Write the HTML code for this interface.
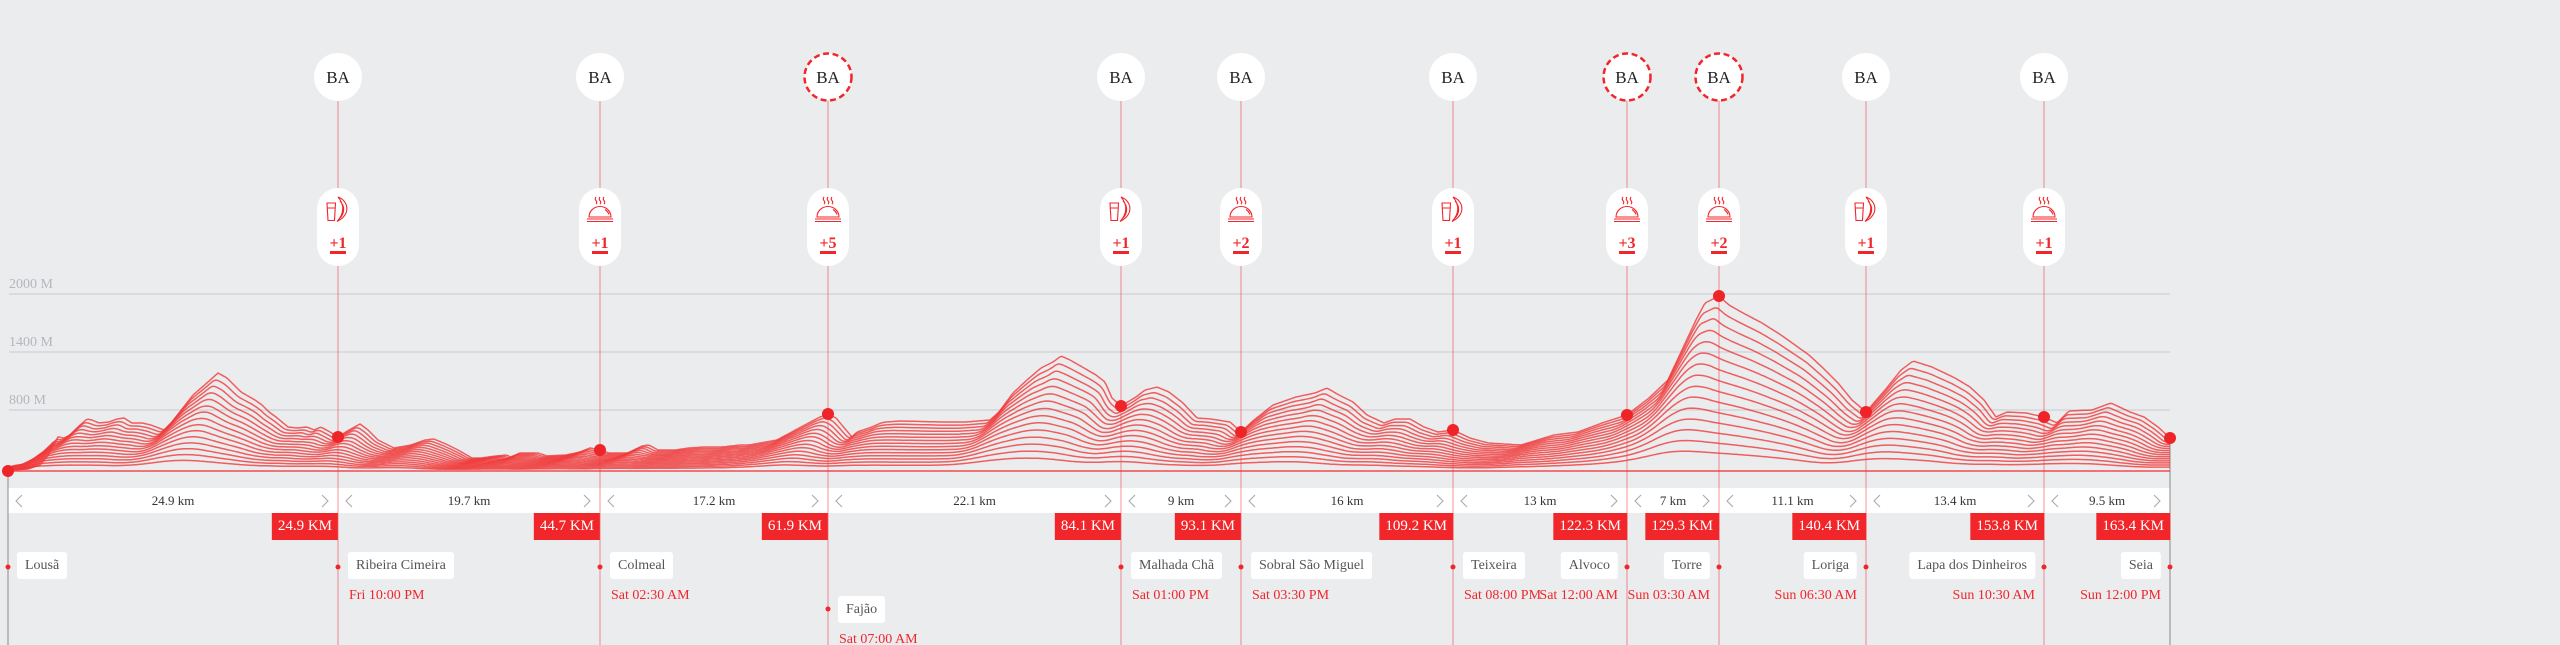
<!DOCTYPE html>
<html><head><meta charset="utf-8">
<style>
html,body{margin:0;padding:0;background:#ebecee;}
#c{position:relative;width:2560px;height:645px;overflow:hidden;background:#ebecee;font-family:"Liberation Serif",serif;}
#c svg{position:absolute;left:0;top:0;z-index:2;}
.band{position:absolute;top:488px;height:25px;line-height:25px;background:#fff;text-align:center;font-size:13px;color:#333;z-index:1;white-space:nowrap;}
.km{position:absolute;top:513px;height:27px;line-height:27px;background:#f1262b;color:#fff;font-size:15px;padding:0 6px;transform:translateX(-100%);white-space:nowrap;z-index:3;}
.lb{position:absolute;top:552px;height:27px;line-height:27px;background:#fff;border-radius:3px;color:#555;font-size:14px;padding:0 8px;white-space:nowrap;z-index:3;}
.tm{position:absolute;top:588px;line-height:16px;color:#f1262b;font-size:14px;white-space:nowrap;z-index:3;}
.L{transform:translateX(-100%);}
</style></head>
<body><div id="c">
<div class="band" style="left:8px;width:330px">24.9 km</div>
<div class="band" style="left:338px;width:262px">19.7 km</div>
<div class="band" style="left:600px;width:228px">17.2 km</div>
<div class="band" style="left:828px;width:293px">22.1 km</div>
<div class="band" style="left:1121px;width:120px">9 km</div>
<div class="band" style="left:1241px;width:212px">16 km</div>
<div class="band" style="left:1453px;width:174px">13 km</div>
<div class="band" style="left:1627px;width:92px">7 km</div>
<div class="band" style="left:1719px;width:147px">11.1 km</div>
<div class="band" style="left:1866px;width:178px">13.4 km</div>
<div class="band" style="left:2044px;width:126px">9.5 km</div>

<svg width="2560" height="645" viewBox="0 0 2560 645" xmlns="http://www.w3.org/2000/svg">
<defs>
<g id="cl" fill="none" stroke="#f1262b" stroke-width="1.1">
<path d="M-4,197 q-1.5,1.8 0,3.6 q1.5,1.8 0,3.6 M0,197 q-1.5,1.8 0,3.6 q1.5,1.8 0,3.6 M4,197 q-1.5,1.8 0,3.6 q1.5,1.8 0,3.6"/>
<path d="M-11,217 A11,10.5 0 0 1 11,217 Z"/>
<path d="M5,209.5 q3,2 4,5"/>
<path d="M-13,219 H13 M-13,221.5 H13"/>
</g>
<g id="sn" fill="none" stroke="#f1262b" stroke-width="1.1">
<path d="M-11,203 L-2.5,203 L-3.5,220.5 L-10,220.5 Z M-10.5,208 H-3"/>
<path d="M0,197 C11,201 13,215 -1,221.5 C6,214 7,205 0,197 Z M2,201 C7,206 7,214 1,219"/>
</g>
</defs>
<g stroke="#d3d5d9" stroke-width="1.5">
<line x1="9" y1="294" x2="2170" y2="294"/>
<line x1="9" y1="352" x2="2170" y2="352"/>
<line x1="9" y1="410" x2="2170" y2="410"/>
</g>
<g font-family="Liberation Serif, serif" font-size="14" fill="#b3b7bd">
<text x="9" y="288">2000 M</text>
<text x="9" y="346">1400 M</text>
<text x="9" y="404">800 M</text>
</g>
<g fill="none" stroke="#aaa" stroke-width="1.1">
<path d="M22,495 L16,501 L22,507 M322,495 L328,501 L322,507"/>
<path d="M352,495 L346,501 L352,507 M584,495 L590,501 L584,507"/>
<path d="M614,495 L608,501 L614,507 M812,495 L818,501 L812,507"/>
<path d="M842,495 L836,501 L842,507 M1105,495 L1111,501 L1105,507"/>
<path d="M1135,495 L1129,501 L1135,507 M1225,495 L1231,501 L1225,507"/>
<path d="M1255,495 L1249,501 L1255,507 M1437,495 L1443,501 L1437,507"/>
<path d="M1467,495 L1461,501 L1467,507 M1611,495 L1617,501 L1611,507"/>
<path d="M1641,495 L1635,501 L1641,507 M1703,495 L1709,501 L1703,507"/>
<path d="M1733,495 L1727,501 L1733,507 M1850,495 L1856,501 L1850,507"/>
<path d="M1880,495 L1874,501 L1880,507 M2028,495 L2034,501 L2028,507"/>
<path d="M2058,495 L2052,501 L2058,507 M2154,495 L2160,501 L2154,507"/>
</g>
<g stroke="#f1262b" stroke-opacity="0.5" stroke-width="1">
<line x1="338" y1="77" x2="338" y2="645"/>
<line x1="600" y1="77" x2="600" y2="645"/>
<line x1="828" y1="77" x2="828" y2="645"/>
<line x1="1121" y1="77" x2="1121" y2="645"/>
<line x1="1241" y1="77" x2="1241" y2="645"/>
<line x1="1453" y1="77" x2="1453" y2="645"/>
<line x1="1627" y1="77" x2="1627" y2="645"/>
<line x1="1719" y1="77" x2="1719" y2="645"/>
<line x1="1866" y1="77" x2="1866" y2="645"/>
<line x1="2044" y1="77" x2="2044" y2="645"/>
</g>
<g stroke="#8a8a8a" stroke-width="1">
<line x1="8" y1="471" x2="8" y2="645"/>
<line x1="2170" y1="438" x2="2170" y2="645"/>
</g>
<line x1="8" y1="471" x2="2170" y2="471" stroke="#f1262b" stroke-opacity="0.8" stroke-width="1.6"/>
<g id="ridge" fill="none" stroke="#f03a3a" stroke-opacity="0.8" stroke-width="1.5" stroke-linejoin="round">
<polyline points="8,470 28,469 40,465 47,457 53,446 58,437 64,438 70,435 78,427 87,419 92,420 99,423 109,422 117,419 124,418 132,423 142,423 151,425 164,430 172,422 179,413 193,395 208,382 218,373 227,378 241,392 255,400 262,405 269,412 276,417 288,427 297,428 307,427 314,430 321,427 330,432 338,437 349,430 360,424 368,430 378,440 394,448 411,445 425,440 434,439 448,445 458,450 472,458 481,458 496,456 507,455 512,458 519,453 538,453 547,456 566,455 580,452 590,448 600,450 609,453 628,453 642,446 649,445 658,450 675,450 689,448 703,447 722,447 740,445 749,445 777,440 801,427 820,417 828,414 836,418 846,430 852,437 857,432 872,427 881,423 886,422 900,421 942,422 966,422 990,420 999,412 1013,393 1027,380 1041,368 1053,362 1061,356 1070,360 1084,368 1096,375 1105,382 1112,398 1121,406 1136,397 1145,390 1157,387 1169,392 1183,403 1197,418 1211,419 1230,422 1241,432 1254,420 1273,405 1296,397 1315,393 1327,388 1339,395 1353,402 1367,415 1384,423 1395,419 1410,419 1424,427 1438,432 1453,430 1470,438 1488,443 1521,445 1554,435 1578,432 1602,423 1627,415 1649,398 1668,380 1682,350 1696,320 1705,303 1719,296 1729,305 1743,313 1762,323 1781,335 1795,345 1809,355 1823,368 1838,383 1852,400 1866,412 1885,390 1901,370 1913,361 1932,367 1955,378 1970,387 1984,400 1996,417 2007,412 2026,413 2044,417 2057,423 2069,411 2092,410 2111,403 2130,412 2144,417 2158,427 2170,438"/>
</g>
<g fill="#ee2428">
<circle cx="8" cy="471" r="6"/>
<circle cx="338" cy="437" r="6"/>
<circle cx="600" cy="450" r="6"/>
<circle cx="828" cy="414" r="6"/>
<circle cx="1121" cy="406" r="6"/>
<circle cx="1241" cy="432" r="6"/>
<circle cx="1453" cy="430" r="6"/>
<circle cx="1627" cy="415" r="6"/>
<circle cx="1719" cy="296" r="6"/>
<circle cx="1866" cy="412" r="6"/>
<circle cx="2044" cy="417" r="6"/>
<circle cx="2170" cy="438" r="6"/>
</g>
<g fill="#f1262b">
<circle cx="8" cy="567" r="2.5"/>
<circle cx="338" cy="567" r="2.5"/>
<circle cx="600" cy="567" r="2.5"/>
<circle cx="828" cy="609" r="2.5"/>
<circle cx="1121" cy="567" r="2.5"/>
<circle cx="1241" cy="567" r="2.5"/>
<circle cx="1453" cy="567" r="2.5"/>
<circle cx="1627" cy="567" r="2.5"/>
<circle cx="1719" cy="567" r="2.5"/>
<circle cx="1866" cy="567" r="2.5"/>
<circle cx="2044" cy="567" r="2.5"/>
<circle cx="2170" cy="567" r="2.5"/>
</g>
<g fill="#fff">
<circle cx="338" cy="77" r="24"/>
<circle cx="600" cy="77" r="24"/>
<circle cx="1121" cy="77" r="24"/>
<circle cx="1241" cy="77" r="24"/>
<circle cx="1453" cy="77" r="24"/>
<circle cx="1866" cy="77" r="24"/>
<circle cx="2044" cy="77" r="24"/>
</g>
<g fill="#fff" stroke="#f1262b" stroke-width="2.5" stroke-dasharray="6 3.6">
<circle cx="828" cy="77" r="23.5"/>
<circle cx="1627" cy="77" r="23.5"/>
<circle cx="1719" cy="77" r="23.5"/>
</g>
<g font-family="Liberation Serif, serif" font-size="17" fill="#222" text-anchor="middle">
<text x="338" y="83">BA</text><text x="600" y="83">BA</text><text x="828" y="83">BA</text>
<text x="1121" y="83">BA</text><text x="1241" y="83">BA</text><text x="1453" y="83">BA</text>
<text x="1627" y="83">BA</text><text x="1719" y="83">BA</text><text x="1866" y="83">BA</text>
<text x="2044" y="83">BA</text>
</g>
<g fill="#fff">
<rect x="317" y="188" width="42" height="78" rx="21"/>
<rect x="579" y="188" width="42" height="78" rx="21"/>
<rect x="807" y="188" width="42" height="78" rx="21"/>
<rect x="1100" y="188" width="42" height="78" rx="21"/>
<rect x="1220" y="188" width="42" height="78" rx="21"/>
<rect x="1432" y="188" width="42" height="78" rx="21"/>
<rect x="1606" y="188" width="42" height="78" rx="21"/>
<rect x="1698" y="188" width="42" height="78" rx="21"/>
<rect x="1845" y="188" width="42" height="78" rx="21"/>
<rect x="2023" y="188" width="42" height="78" rx="21"/>
</g>
<use href="#sn" transform="translate(338,0)"/>
<use href="#cl" transform="translate(600,0)"/>
<use href="#cl" transform="translate(828,0)"/>
<use href="#sn" transform="translate(1121,0)"/>
<use href="#cl" transform="translate(1241,0)"/>
<use href="#sn" transform="translate(1453,0)"/>
<use href="#cl" transform="translate(1627,0)"/>
<use href="#cl" transform="translate(1719,0)"/>
<use href="#sn" transform="translate(1866,0)"/>
<use href="#cl" transform="translate(2044,0)"/>
<g font-family="Liberation Serif, serif" font-size="16" font-weight="bold" fill="#f1262b" text-anchor="middle">
<text x="338" y="248">+1</text><text x="600" y="248">+1</text><text x="828" y="248">+5</text>
<text x="1121" y="248">+1</text><text x="1241" y="248">+2</text><text x="1453" y="248">+1</text>
<text x="1627" y="248">+3</text><text x="1719" y="248">+2</text><text x="1866" y="248">+1</text>
<text x="2044" y="248">+1</text>
</g>
<g fill="#f1262b">
<rect x="330" y="251" width="16" height="3"/><rect x="592" y="251" width="16" height="3"/>
<rect x="820" y="251" width="16" height="3"/><rect x="1113" y="251" width="16" height="3"/>
<rect x="1233" y="251" width="16" height="3"/><rect x="1445" y="251" width="16" height="3"/>
<rect x="1619" y="251" width="16" height="3"/><rect x="1711" y="251" width="16" height="3"/>
<rect x="1858" y="251" width="16" height="3"/><rect x="2036" y="251" width="16" height="3"/>
</g>
</svg>

<div class="km" style="left:338px">24.9 KM</div>
<div class="km" style="left:600px">44.7 KM</div>
<div class="km" style="left:828px">61.9 KM</div>
<div class="km" style="left:1121px">84.1 KM</div>
<div class="km" style="left:1241px">93.1 KM</div>
<div class="km" style="left:1453px">109.2 KM</div>
<div class="km" style="left:1627px">122.3 KM</div>
<div class="km" style="left:1719px">129.3 KM</div>
<div class="km" style="left:1866px">140.4 KM</div>
<div class="km" style="left:2044px">153.8 KM</div>
<div class="km" style="left:2170px">163.4 KM</div>

<div class="lb" style="left:17px">Lousã</div>
<div class="lb" style="left:348px">Ribeira Cimeira</div>
<div class="lb" style="left:610px">Colmeal</div>
<div class="lb" style="left:838px;top:596px">Fajão</div>
<div class="lb" style="left:1131px">Malhada Chã</div>
<div class="lb" style="left:1251px">Sobral São Miguel</div>
<div class="lb" style="left:1463px">Teixeira</div>
<div class="lb L" style="left:1618px">Alvoco</div>
<div class="lb L" style="left:1710px">Torre</div>
<div class="lb L" style="left:1857px">Loriga</div>
<div class="lb L" style="left:2035px">Lapa dos Dinheiros</div>
<div class="lb L" style="left:2161px">Seia</div>

<div class="tm" style="left:349px">Fri 10:00 PM</div>
<div class="tm" style="left:611px">Sat 02:30 AM</div>
<div class="tm" style="left:839px;top:632px">Sat 07:00 AM</div>
<div class="tm" style="left:1132px">Sat 01:00 PM</div>
<div class="tm" style="left:1252px">Sat 03:30 PM</div>
<div class="tm" style="left:1464px">Sat 08:00 PM</div>
<div class="tm L" style="left:1618px">Sat 12:00 AM</div>
<div class="tm L" style="left:1710px">Sun 03:30 AM</div>
<div class="tm L" style="left:1857px">Sun 06:30 AM</div>
<div class="tm L" style="left:2035px">Sun 10:30 AM</div>
<div class="tm L" style="left:2161px">Sun 12:00 PM</div>
</div>
<script>
(function(){
var pl=document.querySelector('#ridge polyline');
var raw=pl.getAttribute('points').trim().split(/\s+/);
var P=raw.map(function(s){var a=s.split(',');return [parseFloat(a[0]),parseFloat(a[1])];});
var B=471,n=P.length;
function H(x){
 if(x<=P[0][0])return B-P[0][1];
 if(x>=P[n-1][0])return B-P[n-1][1];
 for(var i=1;i<n;i++){if(x<=P[i][0]){var t=(x-P[i-1][0])/(P[i][0]-P[i-1][0]);return B-(P[i-1][1]+t*(P[i][1]-P[i-1][1]));}}
 return 0;
}
var s='';
for(var k=14;k>=0;k--){
 var sc=1-k*0.063,d=k*2.6,r=Math.round(k*0.7);
 var xs=[],vs=[],x,i,j;
 for(x=8;x<=2170;x+=2){xs.push(x);vs.push(H(Math.min(x+d,2170)));}
 if(r>0){var sm=[];for(i=0;i<vs.length;i++){var a=0,c=0;for(j=i-r;j<=i+r;j++){if(j>=0&&j<vs.length){a+=vs[j];c++;}}sm.push(a/c);}vs=sm;}
 var ds='';
 for(i=0;i<xs.length;i++){ds+=(i?' L':'M')+xs[i]+','+(B-sc*vs[i]).toFixed(1);}
 s+='<path d="'+ds+'"/>';
}
document.getElementById('ridge').innerHTML=s;
})();
</script>
</body></html>
